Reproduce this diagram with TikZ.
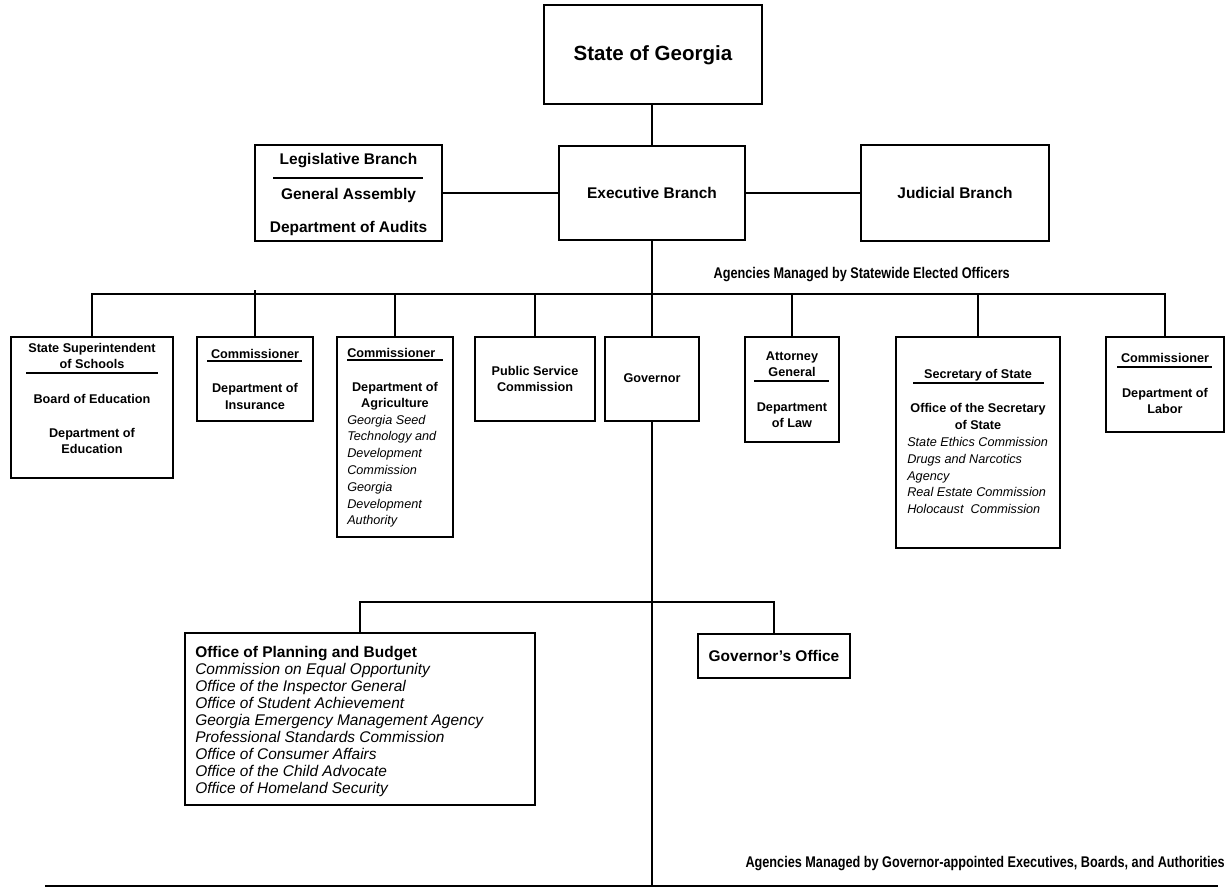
\documentclass[tikz,border=0pt]{standalone}
\usepackage{fontspec}
\setmainfont{Liberation Sans}
\newfontfamily\narrowf[FakeStretch=0.82]{Liberation Sans}
\begin{document}
\begin{tikzpicture}[x=0.75pt,y=-0.75pt,
  box/.style={draw,line width=1.5pt,inner sep=0},
  conn/.style={line width=1.5pt},
  rulel/.style={line width=1.3pt},
  ts/.style={font=\fontsize{9.5}{11}\selectfont\bfseries,anchor=base,inner sep=0,yshift=-3.1pt},
  tsl/.style={ts,anchor=base west},
  tsi/.style={font=\fontsize{9.5}{11}\selectfont\itshape,anchor=base west,inner sep=0,yshift=-3.1pt},
  tm/.style={font=\fontsize{11.6}{13}\selectfont\bfseries,anchor=base,inner sep=0,yshift=-3.8pt},
  tml/.style={tm,anchor=base west},
  tmi/.style={font=\fontsize{11.6}{13}\selectfont\itshape,anchor=base west,inner sep=0,yshift=-3.8pt},
  ttl/.style={font=\fontsize{15.4}{18}\selectfont\bfseries,anchor=base,inner sep=0,yshift=-5.1pt},
  lbl/.style={font=\narrowf\fontsize{11.6}{13}\selectfont\bfseries,anchor=base east,inner sep=0,yshift=-3.8pt}]
\useasboundingbox (0,0) rectangle (1228,888);

% top level
\node[box,minimum width=163.5pt,minimum height=74.25pt] (state) at (653,54.5) {};
\node[ttl] (stateT) at (653,54) {State of Georgia};

\node[box,minimum width=139.5pt,minimum height=70.5pt] (exec) at (652,193) {};
\node[tm] (execT) at (652,193) {Executive Branch};

\node[box,minimum width=140.25pt,minimum height=72pt] (leg) at (348.5,193) {};
\node[tm] (legT1) at (348.5,159) {Legislative Branch};
\draw[rulel] (273,178) -- (423,178);
\node[tm] (legT2) at (348.5,194) {General Assembly};
\node[tm] (legT3) at (348.5,227) {Department of Audits};

\node[box,minimum width=141pt,minimum height=72pt] (jud) at (955,193) {};
\node[tm] (judT) at (955,193) {Judicial Branch};

\node[lbl] (lblA) at (1010,273) {Agencies Managed by Statewide Elected Officers};

% elected officers
\node[box,minimum width=121.5pt,minimum height=105.75pt] (ss) at (92,407.5) {};
\node[ts] (ssT1) at (92,348) {State Superintendent};
\node[ts] (ssT2) at (92,364) {of Schools};
\draw[rulel] (26,373) -- (158,373);
\node[ts] (ssT3) at (92,399) {Board of Education};
\node[ts] (ssT4) at (92,433) {Department of};
\node[ts] (ssT5) at (92,449) {Education};

\node[box,minimum width=87pt,minimum height=63pt] (ins) at (255,379) {};
\node[ts] (insT1) at (255,354) {Commissioner};
\draw[rulel] (207,361) -- (302,361);
\node[ts] (insT2) at (255,388) {Department of};
\node[ts] (insT3) at (255,405) {Insurance};

\node[box,minimum width=87pt,minimum height=150pt] (agr) at (395,437) {};
\node[tsl] (agrT1) at (347,353) {Commissioner};
\draw[rulel] (347,360) -- (443,360);
\node[ts] (agrT2) at (395,387) {Department of};
\node[ts] (agrT3) at (395,403) {Agriculture};
\foreach \t [count=\i] in {Georgia Seed,Technology and,Development,Commission,Georgia,Development,Authority}
  \node[tsi] (agrI\i) at (347,{420+16.8*(\i-1)}) {\t};

\node[box,minimum width=90pt,minimum height=63pt] (psc) at (535,379) {};
\node[ts] (pscT1) at (535,371) {Public Service};
\node[ts] (pscT2) at (535,387) {Commission};

\node[box,minimum width=70.5pt,minimum height=63pt] (gov) at (652,379) {};
\node[ts] (govT) at (652,378) {Governor};

\node[box,minimum width=70.5pt,minimum height=78.75pt] (ag) at (792,389.5) {};
\node[ts] (agT1) at (792,356) {Attorney};
\node[ts] (agT2) at (792,372) {General};
\draw[rulel] (754,381) -- (829,381);
\node[ts] (agT3) at (792,407) {Department};
\node[ts] (agT4) at (792,423) {of Law};

\node[box,minimum width=123pt,minimum height=158.25pt] (sos) at (978,442.5) {};
\node[ts] (sosT1) at (978,374) {Secretary of State};
\draw[rulel] (913,383) -- (1044,383);
\node[ts] (sosT2) at (978,408) {Office of the Secretary};
\node[ts] (sosT3) at (978,425) {of State};
\node[tsi] (sosI1) at (907,442) {State Ethics Commission};
\node[tsi] (sosI2) at (907,459) {Drugs and Narcotics};
\node[tsi] (sosI3) at (907,476) {Agency};
\node[tsi] (sosI4) at (907,492) {Real Estate Commission};
\node[tsi] (sosI5) at (907,509) {Holocaust\ \ Commission};

\node[box,minimum width=88.5pt,minimum height=71.25pt] (lab) at (1165,384.5) {};
\node[ts] (labT1) at (1165,358) {Commissioner};
\draw[rulel] (1117,367) -- (1212,367);
\node[ts] (labT2) at (1165,393) {Department of};
\node[ts] (labT3) at (1165,409) {Labor};

% governor's units
\node[box,minimum width=262.5pt,minimum height=129pt] (opb) at (360,719) {};
\node[tml] (opbT) at (195,652) {Office of Planning and Budget};
\foreach \t [count=\i] in {Commission on Equal Opportunity,Office of the Inspector General,Office of Student Achievement,Georgia Emergency Management Agency,Professional Standards Commission,Office of Consumer Affairs,Office of the Child Advocate,Office of Homeland Security}
  \node[tmi] (opbI\i) at (195,{652+17*\i}) {\t};

\node[box,minimum width=114pt,minimum height=33pt] (go) at (774,656) {};
\node[tm] (goT) at (774,656) {Governor's Office};

\node[lbl] (lblB) at (1225,862) {Agencies Managed by Governor-appointed Executives, Boards, and Authorities};

% connectors
\draw[conn] (exec.north) -- (exec.north |- state.south);
\draw[conn] (leg.east) -- (leg.east -| exec.west);
\draw[conn] (exec.east) -- (exec.east -| jud.west);
\coordinate (bus) at (652,294);
\draw[conn] (exec.south) -- (bus);
\draw[conn] (ss.north) -- (ss.north |- bus) -- (lab.north |- bus) -- (lab.north);
\foreach \b in {agr,psc,gov,ag,sos}
  \draw[conn] (\b.north) -- (\b.north |- bus);
\coordinate (insTop) at (255,290);
\draw[conn] (ins.north) -- (ins.north |- insTop);
\coordinate (govEnd) at (652,886);
\draw[conn] (gov.south) -- (gov.south |- govEnd);
\coordinate (sub) at (652,602);
\draw[conn] (opb.north) -- (opb.north |- sub) -- (go.north |- sub) -- (go.north);
\coordinate (botL) at (45,886);
\coordinate (botR) at (1218,886);
\draw[conn] (botL) -- (botR);
\end{tikzpicture}
\end{document}
